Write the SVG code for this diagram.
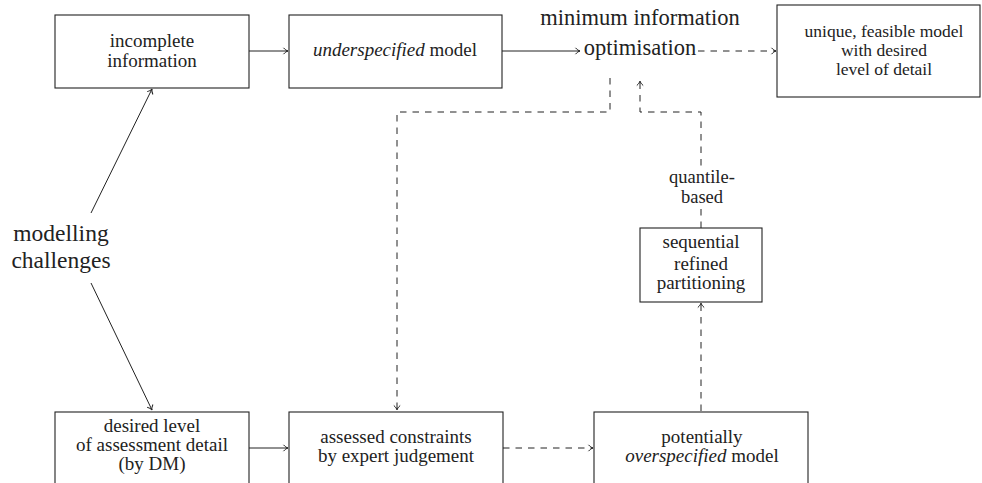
<svg xmlns="http://www.w3.org/2000/svg" width="982" height="483" viewBox="0 0 982 483">
<style>
text{font-family:"Liberation Serif","Times New Roman",serif;fill:#222;text-anchor:middle}
.t{font-size:19px}
.q{font-size:18.5px}
.s{font-size:17.5px}
.b{font-size:22.5px}
.h{font-size:23.5px}
.box{fill:#fff;stroke:#222;stroke-width:1.1}
.c{fill:none;stroke:#222;stroke-width:1}
.d{stroke-dasharray:6.5 6}
</style>
<defs>
<marker id="ah" markerUnits="userSpaceOnUse" markerWidth="10" markerHeight="10" viewBox="-6 -5 8 10" refX="0" refY="0" orient="auto">
<path d="M-4.5,-3.2 C-3,-1.4 -1.2,-0.3 0,0 C-1.2,0.3 -3,1.4 -4.5,3.2" fill="none" stroke="#222" stroke-width="1"/>
</marker>
</defs>
<rect width="982" height="483" fill="#fff"/>
<g id="connectors">
<line class="c" x1="249" y1="51" x2="288" y2="51" marker-end="url(#ah)"/>
<line class="c" x1="502" y1="51" x2="580" y2="51" marker-end="url(#ah)"/>
<line class="c d" x1="698" y1="51" x2="776" y2="51" marker-end="url(#ah)"/>
<line class="c" x1="91" y1="213" x2="152" y2="89" marker-end="url(#ah)"/>
<line class="c" x1="91" y1="283" x2="152" y2="410" marker-end="url(#ah)"/>
<line class="c" x1="249" y1="448" x2="288" y2="448" marker-end="url(#ah)"/>
<line class="c d" x1="503" y1="448" x2="593" y2="448" marker-end="url(#ah)"/>
<line class="c d" x1="701" y1="411" x2="701" y2="303" marker-end="url(#ah)"/>
<path class="c d" d="M610,78 V112 H397 V410" marker-end="url(#ah)"/>
<path class="c d" d="M701,228 V112 H640 V81" marker-end="url(#ah)"/>
<g id="label-quantile">
<rect x="664" y="168" width="74" height="40" fill="#fff"/>
<text class="q" x="702" y="183">quantile-</text>
<text class="q" x="702" y="203">based</text>
</g>
</g>
<g id="incomplete">
<rect class="box" x="55" y="15" width="194" height="73"/>
<text class="t" x="152" y="47">incomplete</text>
<text class="t" x="152" y="67">information</text>
</g>
<g id="underspecified">
<rect class="box" x="289" y="15" width="213" height="73"/>
<text class="t" x="395" y="56"><tspan font-style="italic">underspecified</tspan> model</text>
</g>
<g id="optimisation">
<text class="b" x="640" y="25">minimum information</text>
<text class="b" x="640" y="55">optimisation</text>
</g>
<g id="unique">
<rect class="box" x="777" y="5" width="203" height="92"/>
<text class="s" x="884" y="37">unique, feasible model</text>
<text class="s" x="884" y="56">with desired</text>
<text class="s" x="884" y="74.5">level of detail</text>
</g>
<g id="challenges">
<text class="h" x="61" y="241">modelling</text>
<text class="h" x="61" y="268">challenges</text>
</g>
<g id="sequential">
<rect class="box" x="640" y="228" width="122" height="74"/>
<text class="t" x="701" y="248">sequential</text>
<text class="t" x="701" y="269.5">refined</text>
<text class="t" x="701" y="289">partitioning</text>
</g>
<g id="desired">
<rect class="box" x="55" y="412" width="194" height="90"/>
<text class="t" x="152" y="432">desired level</text>
<text class="t" x="152" y="451">of assessment detail</text>
<text class="t" x="152" y="470">(by DM)</text>
</g>
<g id="assessed">
<rect class="box" x="289" y="412" width="214" height="90"/>
<text class="t" x="396" y="442.5">assessed constraints</text>
<text class="t" x="396" y="461.5">by expert judgement</text>
</g>
<g id="overspecified">
<rect class="box" x="594" y="412" width="214" height="90"/>
<text class="t" x="702" y="442.5">potentially</text>
<text class="t" x="702" y="461.5"><tspan font-style="italic">overspecified</tspan> model</text>
</g>
</svg>
